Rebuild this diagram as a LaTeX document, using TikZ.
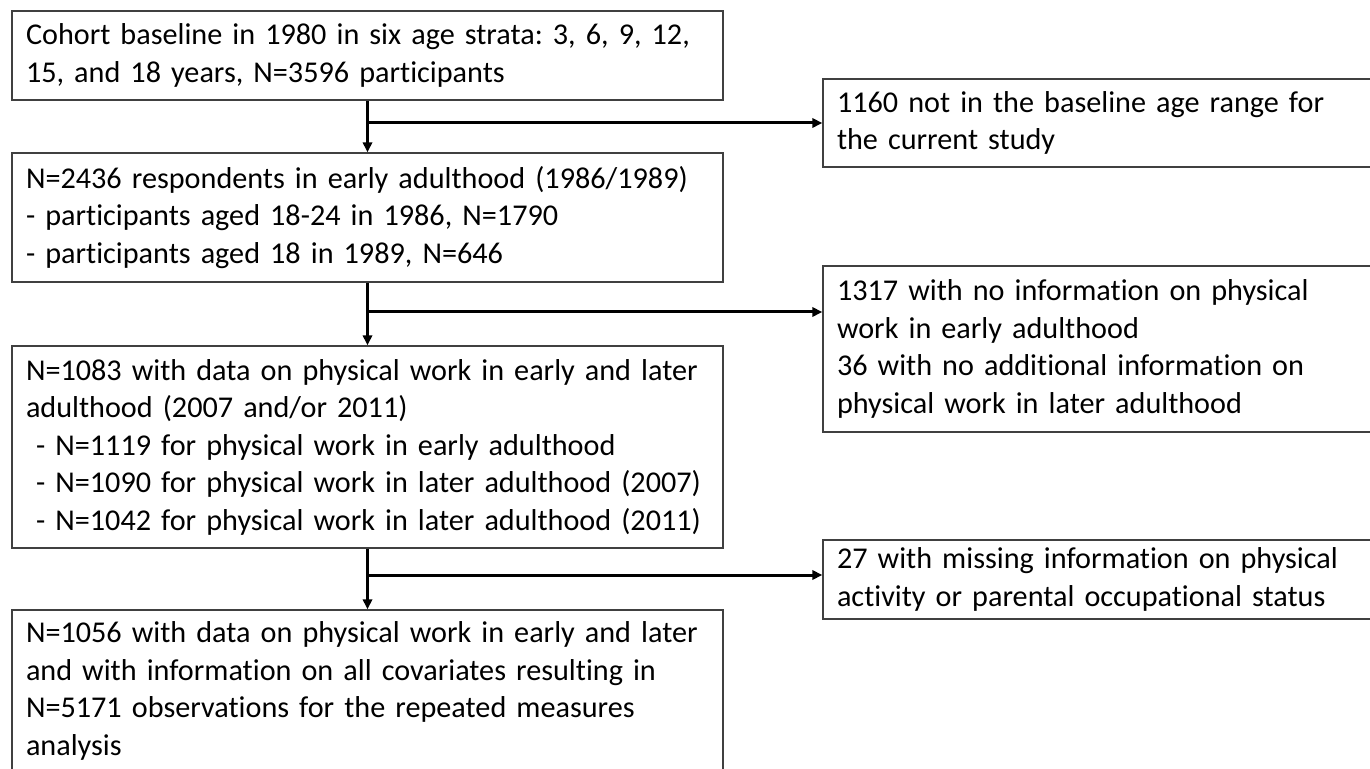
\documentclass[tikz,border=0pt]{standalone}
\usepackage{fontspec}
\setmainfont{Carlito}[Ligatures={NoCommon}]
\usetikzlibrary{arrows.meta}
\newcommand{\boxfont}{\fontsize{15.1pt}{18.75pt}\selectfont\frenchspacing\spaceskip=0.19em\relax}
\begin{document}
\begin{tikzpicture}[x=0.5pt,y=-0.5pt,
  basebox/.style={draw=black!75, line width=0.65pt, rectangle, inner xsep=7pt, inner ysep=0pt,
    align=left, font=\boxfont, anchor=center},
  lbox/.style={basebox, text width=341.5pt, minimum width=355.5pt, minimum height=#1},
  rbox/.style={basebox, text width=260.5pt, minimum width=274.5pt, minimum height=#1},
  arr/.style={line width=1.5pt, -{Triangle[length=5pt,width=4.6pt]}}]
\useasboundingbox (0,0) rectangle (1370,769);

\node[lbox=44.5pt] (b1) at (367.5,55.5) {\mbox{Cohort baseline in 1980 in six age strata: 3, 6, 9, 12,}\\\mbox{15, and 18 years, N=3596 participants}};
\node[rbox=44pt] (r1) at (1097.5,123) {\mbox{1160 not in the baseline age range for}\\\mbox{the current study}};
\node[lbox=64.5pt] (b2) at (367.5,217.5) {\mbox{N=2436 respondents in early adulthood (1986/1989)}\\\mbox{- participants aged 18-24 in 1986, N=1790}\\\mbox{- participants aged 18 in 1989, N=646}};
\node[rbox=83pt] (r2) at (1097.5,349) {\mbox{1317 with no information on physical}\\\mbox{work in early adulthood}\\\mbox{36 with no additional information on}\\\mbox{physical work in later adulthood}};
\node[lbox=101pt] (b3) at (367.5,447) {\mbox{N=1083 with data on physical work in early and later}\\\mbox{adulthood (2007 and/or 2011)}\\\mbox{\ - N=1119 for physical work in early adulthood}\\\mbox{\ - N=1090 for physical work in later adulthood (2007)}\\\mbox{\ - N=1042 for physical work in later adulthood (2011)}};
\node[rbox=39.5pt] (r3) at (1097.5,579.5) {\mbox{27 with missing information on physical}\\\mbox{activity or parental occupational status}};
\node[lbox=81pt] (b4) at (367.5,691) {\mbox{N=1056 with data on physical work in early and later}\\\mbox{and with information on all covariates resulting in}\\\mbox{N=5171 observations for the repeated measures}\\\mbox{analysis}};

\coordinate (j1) at (368,123);
\coordinate (j2) at (368,312);
\coordinate (j3) at (368,575);

\draw[arr] (b1.south) -- (b2.north);
\draw[arr] (j1) -- (j1 -| r1.west);
\draw[arr] (b2.south) -- (b3.north);
\draw[arr] (j2) -- (j2 -| r2.west);
\draw[arr] (b3.south) -- (b4.north);
\draw[arr] (j3) -- (j3 -| r3.west);
\end{tikzpicture}
\end{document}
